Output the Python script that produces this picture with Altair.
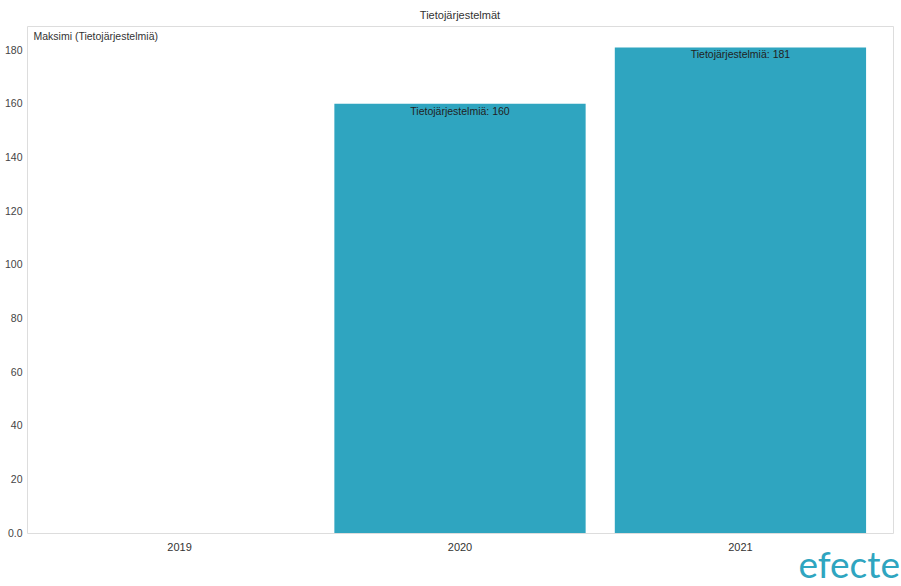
import altair as alt
import pandas as pd

years = ["2019", "2020", "2021"]
values = [None, 160, 181]
series_name = "Tietojärjestelmiä"

df = pd.DataFrame({"year": years, "value": values})
df["label"] = [f"{series_name}: {v}" if v is not None else "" for v in values]

FONT = "Liberation Sans"
BAR = "#2fa5c0"

x = alt.X(
    "year:N",
    sort=years,
    title=None,
    scale=alt.Scale(paddingInner=0.104, paddingOuter=0.096),
    axis=alt.Axis(labelAngle=0, ticks=False, domain=False, labelPadding=8,
                  labelFontSize=11, labelColor="#333", labelFont=FONT),
)
y = alt.Y(
    "value:Q",
    scale=alt.Scale(domain=[0, 189], nice=False),
    title="Maksimi (Tietojärjestelmiä)",
    axis=alt.Axis(values=list(range(0, 181, 20)), ticks=False, domain=False, grid=False,
                  labelExpr="datum.value == 0 ? '0.0' : datum.label",
                  labelPadding=5, labelFontSize=10.5, labelColor="#444", labelFont=FONT,
                  titleAngle=0, titleAlign="left", titleBaseline="top",
                  titleX=6, titleY=5, titleFontSize=10.5, titleFontWeight="normal",
                  titleColor="#333", titleFont=FONT),
)

bars = alt.Chart(df).mark_bar(color=BAR).encode(x=x, y=y)

labels = alt.Chart(df).mark_text(baseline="top", dy=3, fontSize=10.5, color="#222", font=FONT).encode(
    x=alt.X("year:N", sort=years), y="value:Q", text="label:N"
)

logo = alt.Chart(pd.DataFrame({"t": ["efecte"]})).mark_text(
    align="right", baseline="alphabetic", fontSize=37, color="#2fa5c0", font="Lato"
).encode(x=alt.value(873), y=alt.value(552), text="t:N")

chart = alt.layer(bars, labels, logo).properties(
    width=866, height=507,
    title=alt.TitleParams("Tietojärjestelmät", fontSize=11, fontWeight="normal",
                          color="#333", font=FONT, offset=5),
    autosize=alt.AutoSizeParams(type="none"),
    padding={"left": 27, "top": 26, "right": 8, "bottom": 53},
).configure_view(stroke="#dedede", strokeWidth=1.5).configure(background="white")

chart.save("out.html", embed_options={"renderer": "svg", "actions": False})
